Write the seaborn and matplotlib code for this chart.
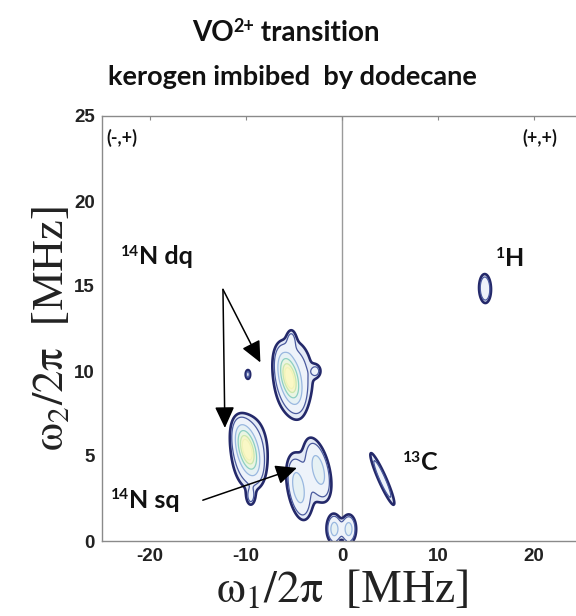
import numpy as np
import matplotlib
matplotlib.use("Agg")
import matplotlib.pyplot as plt
import seaborn as sns

# ---- text ----
title_main = "VO"
title_sup = "2+"
title_rest = " transition"
title_line2 = "kerogen imbibed  by dodecane"
x_label = r"$\mathrm{\omega_1/2\pi}$  [MHz]"
y_label = r"$\mathrm{\omega_2/2\pi}$  [MHz]"
x_ticks = [-20, -10, 0, 10, 20]
x_tick_labels = ["-20", "-10", "0", "10", "20"]
y_ticks = [0, 5, 10, 15, 20, 25]
y_tick_labels = ["0", "5", "10", "15", "20", "25"]

# ---- spectral components (MHz) ----
# broad bases + cores of the 14N dq peaks, 14N sq ridges (+ base), origin lobes,
# 13C ridge, 1H peak, small satellites
peak_x     = [-5.0, -5.5, -9.6, -9.9, -4.6, -2.4, -3.5, -0.8, 0.7, 4.2, 14.9, -9.8, -2.7, -9.5, -5.3]
peak_y     = [9.6, 9.6, 5.2, 5.4, 3.1, 4.2, 3.6, 0.7, 0.7, 3.65, 14.85, 9.8, 10.0, 2.6, 11.8]
peak_amp   = [0.22, 0.85, 0.22, 0.85, 0.38, 0.38, 0.09, 0.4, 0.4, 0.22, 0.3, 0.2, 0.13, 0.14, 0.13]
peak_major = [1.6, 0.95, 1.55, 0.95, 1.1, 1.1, 1.8, 0.5, 0.5, 1.45, 0.55, 0.2, 0.35, 0.35, 0.4]
peak_minor = [1.45, 0.55, 1.35, 0.55, 0.6, 0.6, 0.9, 0.45, 0.45, 0.26, 0.4, 0.18, 0.25, 0.3, 0.3]
peak_angle = [95, 122, 95, 125, 112, 119, 115, 90, 90, 129, 95, 90, 0, 90, 90]

# ---- annotations ----
label_main = ["(-,+)", "(+,+)", "N dq", "H", "C", "N sq"]
label_sup  = ["", "", "14", "1", "13", "14"]
label_x    = [-22.9, 20.6, -19.3, 17.5, 8.2, -20.5]
label_y    = [23.7, 23.7, 16.8, 16.7, 4.7, 2.5]
label_sz   = [13, 13, 18, 18, 18, 18]
arrow_from = [(-12.4, 14.8), (-12.4, 14.8), (-14.5, 2.4)]
arrow_to   = [(-12.2, 6.65), (-8.5, 10.5), (-4.7, 4.3)]

sns.set_theme(style="white")
plt.rcParams['font.family'] = ['Lato', 'DejaVu Sans']

W, H = 576, 616
fig = plt.figure(figsize=(W / 100, H / 100), dpi=100)
ax = fig.add_axes([102 / W, 75 / H, 480 / W, 425 / H])

xg = np.linspace(-25, 25, 801)
yg = np.linspace(0, 25, 401)
X, Y = np.meshgrid(xg, yg)
Z = np.zeros_like(X)
for cx, cy, a, sa, sb, ang in zip(peak_x, peak_y, peak_amp, peak_major, peak_minor, peak_angle):
    t = np.deg2rad(ang)
    u = (X - cx) * np.cos(t) + (Y - cy) * np.sin(t)
    v = -(X - cx) * np.sin(t) + (Y - cy) * np.cos(t)
    Z += a * np.exp(-0.5 * ((u / sa) ** 2 + (v / sb) ** 2))

levels = [0.09, 0.14, 0.3, 0.5, 0.7, 0.85]
fill_colors = ['#e4eaf6', '#eef3fa', '#e6f1f4', '#eaf5e2', '#f6f5cc', '#faf8c6']
line_colors = ['#24296a', '#4a5a9e', '#9ab8e0', '#8ccfc3', '#c9e8b0', '#f1f2b8']
line_widths = [1.9, 0.9, 0.9, 0.9, 0.9, 0.8]
ax.contourf(X, Y, Z, levels=levels + [10], colors=fill_colors)
ax.contour(X, Y, Z, levels=levels, colors=line_colors, linewidths=line_widths)

ax.axvline(0, color='#9a9a9a', lw=1.0, zorder=0)

ax.set_xlim(-25, 25)
ax.set_ylim(0, 25)
tick_font = dict(fontweight='bold', family=['Liberation Sans', 'DejaVu Sans'],
                 fontsize=13.5, color='#222222')
ax.set_xticks(x_ticks, labels=x_tick_labels, **tick_font)
ax.set_yticks(y_ticks, labels=y_tick_labels, **tick_font)
ax.tick_params(direction='in', length=3, width=0.8, color='#888888', top=True, pad=5)
for s in ax.spines.values():
    s.set_color('#8a8a8a')
    s.set_linewidth(1.0)

ax.set_xlabel(x_label, fontsize=33, math_fontfamily='stix', labelpad=3,
              family=['Liberation Serif', 'DejaVu Serif'], color='#222222')
ax.set_ylabel(y_label, fontsize=32, math_fontfamily='stix', labelpad=2,
              family=['Liberation Serif', 'DejaVu Serif'], color='#222222')

fig.canvas.draw()
r = fig.canvas.get_renderer()


def sup_text(cx_px, cy_px, sup, main, size, rest="", sup_scale=0.62):
    """Draw superscript + main (+ rest) centred at pixel (cx_px, cy_px)."""
    kw = dict(fontweight='bold', color='#111111', va='baseline', ha='left')
    if sup and rest == "":
        pieces = [(sup, size * sup_scale, True), (main, size, False)]
    else:
        pieces = [(main, size, False), (sup, size * sup_scale, True), (rest, size, False)]
    objs = []
    for txt, sz, is_sup in pieces:
        o = fig.text(0, 0, txt, fontsize=sz, **kw)
        objs.append((o, o.get_window_extent(r).width, is_sup))
    total = sum(w for _, w, _ in objs)
    x = cx_px - total / 2
    base = cy_px - 0.5 * size
    for o, w, is_sup in objs:
        y = base + (0.45 * size if is_sup else 0)
        o.set_position((x / W, y / H))
        x += w


# title
sup_text(286, H - 31, title_sup, title_main, 20, rest=title_rest, sup_scale=0.65)
fig.text(292 / W, 1 - 77 / H, title_line2, ha='center', va='center', fontsize=19.5,
         fontweight='bold', color='#111111')

for m, sp, x, y, s in zip(label_main, label_sup, label_x, label_y, label_sz):
    px, py = ax.transData.transform((x, y))
    if sp:
        sup_text(px, py, sp, m, s)
    else:
        ax.text(x, y, m, ha='center', va='center', fontsize=s, fontweight='bold',
                color='#111111')

for (x0, y0), (x1, y1) in zip(arrow_from, arrow_to):
    ax.annotate("", xy=(x1, y1), xytext=(x0, y0),
                arrowprops=dict(arrowstyle='-|>,head_length=0.65,head_width=0.3',
                                mutation_scale=20, color='black', lw=1.1,
                                shrinkA=0, shrinkB=0))

fig.savefig("out.png", dpi=100)
